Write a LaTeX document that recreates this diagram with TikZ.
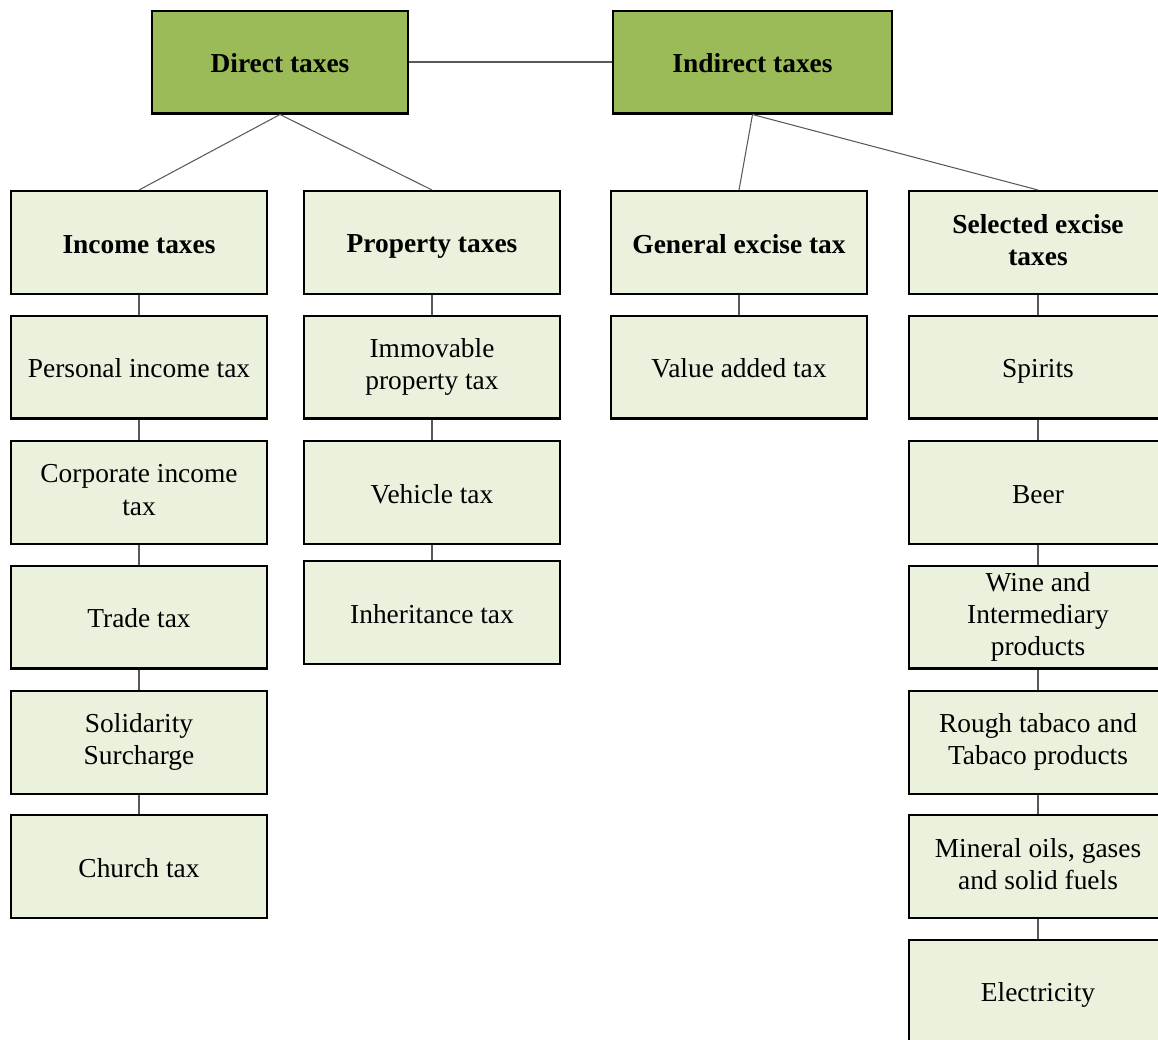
\documentclass[tikz,border=0pt]{standalone}
\usepackage{fontspec}
\setmainfont{Liberation Serif}
\definecolor{darkgr}{HTML}{9BBB59}
\definecolor{lightgr}{HTML}{EAF1DD}
\definecolor{conn}{HTML}{595959}
\newcommand{\boxstrut}{\rule[-3pt]{0pt}{18pt}}
\begin{document}
\begin{tikzpicture}[x=0.02cm,y=-0.02cm,
  box/.style={draw=black,line width=1.15pt,fill=lightgr,minimum width=5.12cm,minimum height=2.06cm,inner sep=0pt,align=center,font=\fontsize{15.6}{18.3}\selectfont,execute at begin node=\boxstrut,execute at end node=\boxstrut},
  topbox/.style={box,fill=darkgr,font=\fontsize{15.6}{18.3}\selectfont\bfseries},
  headbox/.style={box,font=\fontsize{15.6}{18.3}\selectfont\bfseries},
  conn/.style={draw=conn,line width=0.6pt}]
\useasboundingbox (0,0) rectangle (1158,1039);
\clip (0,0) rectangle (1158,1039);
% top
\node[topbox] (dt) at (280,62) {Direct taxes};
\node[topbox,minimum width=5.58cm] (it) at (752.5,62) {Indirect taxes};
% headers
\node[headbox] (inc) at (139,242.5) {Income taxes};
\node[headbox] (prop) at (432,242.5) {Property taxes};
\node[headbox] (gen) at (739,242.5) {General excise tax};
\node[headbox,minimum width=5.16cm] (sel) at (1038,242.5) {Selected excise\\taxes};
% column 1
\node[box] (c11) at (139,367) {Personal income tax};
\node[box] (c12) at (139,492.5) {Corporate income\\tax};
\node[box] (c13) at (139,617) {Trade tax};
\node[box] (c14) at (139,742) {Solidarity\\Surcharge};
\node[box] (c15) at (139,866.5) {Church tax};
% column 2
\node[box] (c21) at (432,367) {Immovable\\property tax};
\node[box] (c22) at (432,492.5) {Vehicle tax};
\node[box] (c23) at (432,612.5) {Inheritance tax};
% column 3
\node[box] (c31) at (739,367) {Value added tax};
% column 4
\node[box,minimum width=5.16cm] (c41) at (1038,367) {Spirits};
\node[box,minimum width=5.16cm] (c42) at (1038,492.5) {Beer};
\node[box,minimum width=5.16cm] (c43) at (1038,617) {Wine and\\Intermediary\\products};
\node[box,minimum width=5.16cm] (c44) at (1038,742) {Rough tabaco and\\Tabaco products};
\node[box,minimum width=5.16cm] (c45) at (1038,866.5) {Mineral oils, gases\\and solid fuels};
\node[box,minimum width=5.16cm] (c46) at (1038,991.5) {Electricity};
% connectors
\draw[conn] (dt.east) -- (it.west);
\draw[conn] (dt.south) -- (inc.north);
\draw[conn] (dt.south) -- (prop.north);
\draw[conn] (it.south) -- (gen.north);
\draw[conn] (it.south) -- (sel.north);
\draw[conn] (inc) -- (c11);
\draw[conn] (c11) -- (c12);
\draw[conn] (c12) -- (c13);
\draw[conn] (c13) -- (c14);
\draw[conn] (c14) -- (c15);
\draw[conn] (prop) -- (c21);
\draw[conn] (c21) -- (c22);
\draw[conn] (c22) -- (c23);
\draw[conn] (gen) -- (c31);
\draw[conn] (sel) -- (c41);
\draw[conn] (c41) -- (c42);
\draw[conn] (c42) -- (c43);
\draw[conn] (c43) -- (c44);
\draw[conn] (c44) -- (c45);
\draw[conn] (c45) -- (c46);
\end{tikzpicture}
\end{document}
